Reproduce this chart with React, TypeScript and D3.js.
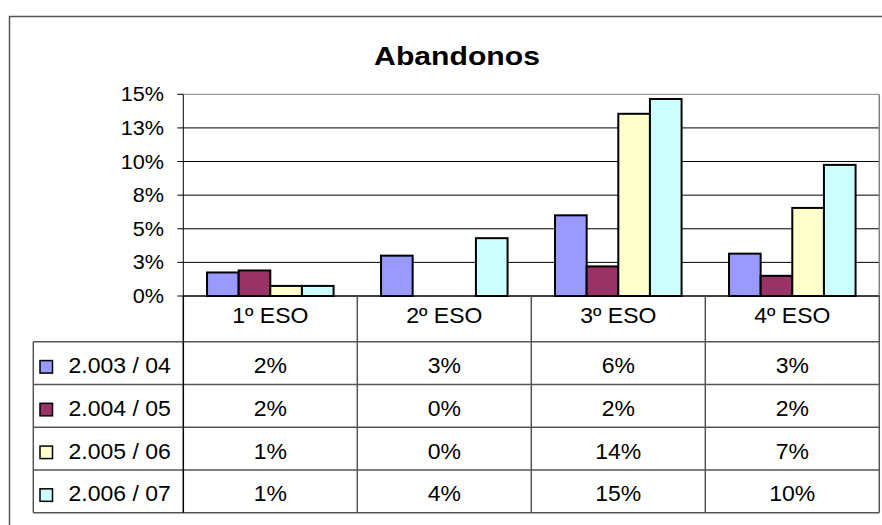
import React from "react";
import * as d3 from "d3";

const title = "Abandonos";
const categories = ["1º ESO", "2º ESO", "3º ESO", "4º ESO"];
const seriesNames = ["2.003 / 04", "2.004 / 05", "2.005 / 06", "2.006 / 07"];
const values2003 = [1.75, 3.0, 6.0, 3.15];
const values2004 = [1.9, 0, 2.2, 1.5];
const values2005 = [0.75, 0, 13.55, 6.55];
const values2006 = [0.75, 4.3, 14.65, 9.75];
const seriesColors = ["#9999FF", "#993366", "#FFFFCC", "#CCFFFF"];
const tickValues = [0, 2.5, 5, 7.5, 10, 12.5, 15];
const tickLabels = ["0%", "3%", "5%", "8%", "10%", "13%", "15%"];

const seriesValues = [values2003, values2004, values2005, values2006];

const W = 882;
const H = 525;
const plotLeft = 183.3;
const plotRight = 879.3;
const plotTop = 94.3;
const plotBottom = 296;
const tableLeft = 33.3;
const headerBottom = 341.7;
const tableBottom = 512.7;
const FONT = "'Liberation Sans', Arial, sans-serif";

export default function App() {
  const x = d3.scaleBand<string>().domain(categories).range([plotLeft, plotRight]);
  const step = x.bandwidth();
  const barW = step / 5.5;
  const x1 = d3
    .scaleBand<number>()
    .domain(d3.range(seriesNames.length))
    .range([0, barW * 4]);
  const y = d3.scaleLinear().domain([0, 15]).range([plotBottom, plotTop]);
  const rows = d3
    .scaleBand<string>()
    .domain(seriesNames)
    .range([headerBottom, tableBottom]);
  const fmt = (v: number) => `${Math.round(v)}%`;

  const txt = (
    key: string,
    s: string,
    tx: number,
    ty: number,
    size: number,
    sx: number,
    anchor: string,
    bold = false
  ) => (
    <text
      key={key}
      transform={`translate(${tx},${ty}) scale(${sx},1)`}
      textAnchor={anchor}
      fontFamily={FONT}
      fontSize={size}
      fontWeight={bold ? "bold" : "normal"}
      fill="#000"
    >
      {s}
    </text>
  );

  return (
    <div style={{ position: "fixed", left: 0, top: 0, width: W, height: H, background: "#fff" }}>
      <svg width={W} height={H} style={{ display: "block" }}>
        <rect x={0} y={0} width={W} height={H} fill="#fff" />
        {/* outer chart border */}
        <rect x={9.5} y={16.5} width={W + 20} height={H + 20} fill="#fff" stroke="#555" strokeWidth={1.5} />
        {txt("title", title, 457, 65.3, 26, 1.16, "middle", true)}

        {/* gridlines */}
        {tickValues.map((t, i) => (
          <line
            key={"g" + i}
            x1={plotLeft}
            x2={plotRight}
            y1={y(t)}
            y2={y(t)}
            stroke={i === tickValues.length - 1 ? "#808080" : "#000"}
            strokeWidth={1}
          />
        ))}
        {/* plot right border */}
        <line x1={plotRight} x2={plotRight} y1={plotTop} y2={plotBottom} stroke="#808080" strokeWidth={1.5} />

        {/* bars */}
        {categories.map((c, ci) =>
          seriesValues.map((vals, si) =>
            vals[ci] > 0 ? (
              <rect
                key={`b${ci}-${si}`}
                x={(x(c) as number) + (step - barW * 4) / 2 + (x1(si) as number)}
                y={y(vals[ci])}
                width={barW}
                height={y(0) - y(vals[ci])}
                fill={seriesColors[si]}
                stroke="#000"
                strokeWidth={2}
              />
            ) : null
          )
        )}

        {/* y axis */}
        <line x1={plotLeft} x2={plotLeft} y1={plotTop} y2={plotBottom} stroke="#000" strokeWidth={1} />
        {tickValues.map((t, i) => (
          <g key={"t" + i}>
            <line x1={plotLeft - 6} x2={plotLeft} y1={y(t)} y2={y(t)} stroke="#000" strokeWidth={1} />
            {txt("tl" + i, tickLabels[i], 164, y(t) + 7, 19.5, 1.11, "end")}
          </g>
        ))}

        {/* data table */}
        <line x1={plotLeft} x2={plotRight} y1={plotBottom} y2={plotBottom} stroke="#000" strokeWidth={1} />
        {seriesNames.map((s, i) => (
          <line
            key={"rl" + i}
            x1={tableLeft}
            x2={plotRight}
            y1={rows(s) as number}
            y2={rows(s) as number}
            stroke="#555"
            strokeWidth={1.5}
          />
        ))}
        <line x1={tableLeft} x2={plotRight} y1={tableBottom} y2={tableBottom} stroke="#555" strokeWidth={1.5} />
        <line x1={tableLeft} x2={tableLeft} y1={headerBottom} y2={tableBottom} stroke="#555" strokeWidth={1.5} />
        <line x1={plotLeft} x2={plotLeft} y1={plotBottom} y2={tableBottom} stroke="#000" strokeWidth={1.5} />
        {categories.map((c, ci) => (
          <line
            key={"cl" + ci}
            x1={(x(c) as number) + step}
            x2={(x(c) as number) + step}
            y1={plotBottom}
            y2={tableBottom}
            stroke="#555"
            strokeWidth={1.5}
          />
        ))}
        {categories.map((c, ci) =>
          txt("ch" + ci, c, (x(c) as number) + step / 2, 323.3, 21.5, 1.07, "middle")
        )}
        {seriesNames.map((s, si) => {
          const cy = (rows(s) as number) + rows.bandwidth() / 2;
          return (
            <g key={"row" + si}>
              <rect
                x={40}
                y={cy - 2.5}
                width={12.5}
                height={12.5}
                fill={seriesColors[si]}
                stroke="#000"
                strokeWidth={1.5}
              />
              {txt("sn" + si, s, 68.5, cy + 10, 21.5, 1.07, "start")}
              {categories.map((c, ci) =>
                txt(`v${si}-${ci}`, fmt(seriesValues[si][ci]), (x(c) as number) + step / 2, cy + 10, 21.5, 1.07, "middle")
              )}
            </g>
          );
        })}
      </svg>
    </div>
  );
}
